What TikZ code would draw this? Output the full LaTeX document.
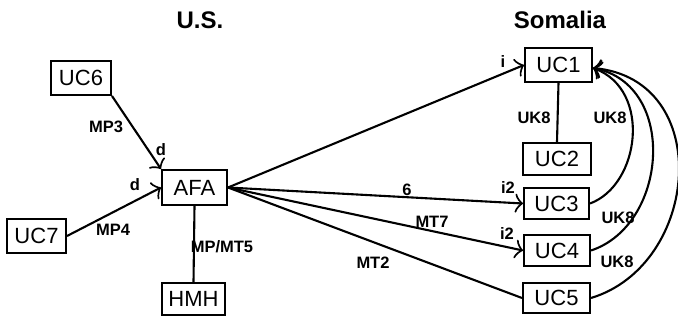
\documentclass[tikz,border=0pt]{standalone}
\usepackage{fontspec}
\setmainfont{Liberation Sans}
\usetikzlibrary{arrows.meta}
\begin{document}
\begin{tikzpicture}[x=1pt,y=-1pt,
  box/.style={draw,line width=2pt,inner sep=0pt,minimum width=64pt,minimum height=32pt,font=\fontsize{22}{22}\selectfont},
  lbl/.style={font=\bfseries\fontsize{16.5}{16.5}\selectfont,inner sep=0pt},
  ttl/.style={font=\bfseries\fontsize{24}{24}\selectfont,inner sep=0pt},
  conn/.style={line width=2.1pt},
  arr/.style={conn,-{Classical TikZ Rightarrow[length=8pt,width=19pt]}}]
\useasboundingbox (0,0) rectangle (678,321);
\node[ttl] (us) at (200,20) {U.S.};
\node[ttl] (so) at (560,20) {Somalia};
\node[box,minimum width=60pt,minimum height=34pt] (UC6) at (81,78) {UC6};
\node[box,minimum width=59pt,minimum height=34pt] (UC7) at (36.5,236) {UC7};
\node[box,minimum width=65pt,minimum height=35pt] (AFA) at (194.5,187.5) {AFA};
\node[box,minimum width=63pt,minimum height=32pt] (HMH) at (193.5,299) {HMH};
\node[box,minimum width=67pt,minimum height=34pt] (UC1) at (558.5,65) {UC1};
\node[box,minimum width=68pt,minimum height=32pt] (UC2) at (557,159) {UC2};
\node[box,minimum width=65pt,minimum height=31pt] (UC3) at (556.5,203.5) {UC3};
\node[box,minimum width=66pt,minimum height=31pt] (UC4) at (557,250.5) {UC4};
\node[box,minimum width=67pt,minimum height=30pt] (UC5) at (556.5,298) {UC5};
\coordinate (tip) at ([yshift=-3pt]UC1.east);
% US side
\draw[arr] (UC6.south east) -- (AFA.north west);
\draw[arr] (UC7.east) -- (AFA.west);
\draw[conn] (AFA.south) -- (HMH.north);
\node[lbl] (mp3) at (106,127) {MP3};
\node[lbl] (d1) at (161,150) {d};
\node[lbl] (d2) at (135,185) {d};
\node[lbl] (mp4) at (113,230) {MP4};
\node[lbl] (mpmt5) at (222,247) {MP/MT5};
% to Somalia
\draw[arr] (AFA.east) -- (UC1.west);
\draw[arr] (AFA.east) -- (UC3.west);
\draw[arr] (AFA.east) -- (UC4.west);
\draw[conn] (AFA.east) -- (UC5.west);
\node[lbl] (li) at (503,62) {i};
\node[lbl] (l6) at (407,190) {6};
\node[lbl] (li2a) at (508,188) {i2};
\node[lbl] (lmt7) at (432,222) {MT7};
\node[lbl] (li2b) at (507,234) {i2};
\node[lbl] (lmt2) at (373,263) {MT2};
% Somalia internal
\draw[conn] (UC1.south) -- (UC2.north);
\node[lbl] (k1) at (534,118) {UK8};
\draw[arr] (UC3.east) .. controls (640,185) and (652,90) .. (tip);
\draw[arr] (UC4.east) .. controls (668,225) and (678,85) .. (tip);
\draw[arr] (UC5.east) .. controls (700,265) and (715,80) .. (tip);
\node[lbl] (k2) at (610,118) {UK8};
\node[lbl] (k3) at (618,218) {UK8};
\node[lbl] (k4) at (617,262) {UK8};
\end{tikzpicture}
\end{document}
